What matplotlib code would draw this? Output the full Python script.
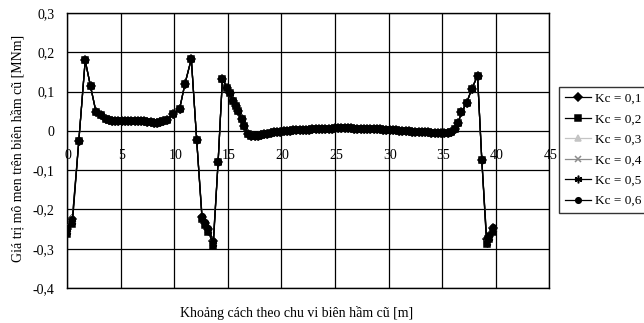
import numpy as np
import pandas as pd
import matplotlib
matplotlib.use('Agg')
import matplotlib.pyplot as plt
from matplotlib.ticker import FuncFormatter
from matplotlib.transforms import offset_copy

plt.rcParams['font.family'] = ['Liberation Serif', 'DejaVu Serif']

# khoảng cách theo chu vi (m) - các điểm chung của tất cả các đường
x_main = [1.1, 1.7, 2.2, 2.7, 3.2,
          3.6, 3.9, 4.2, 4.5, 4.8, 5.1, 5.4, 5.7, 6.0, 6.3,
          6.6, 6.9, 7.2, 7.5, 7.8, 8.1, 8.4, 8.7, 9.0, 9.3,
          9.9, 10.5, 11.0, 11.6, 12.1,
          14.1, 14.5, 14.95, 15.2, 15.5, 15.8, 16.0, 16.3, 16.5, 16.9, 17.2,
          17.5, 17.8, 18.1, 18.4, 18.7, 19.0, 19.3, 19.6, 19.9, 20.2,
          20.5, 20.8, 21.1, 21.4, 21.7, 22.0, 22.3, 22.6, 22.9, 23.2,
          23.5, 23.8, 24.1, 24.4, 24.7, 25.0, 25.3, 25.6, 25.9, 26.2,
          26.5, 26.8, 27.1, 27.4, 27.7, 28.0, 28.3, 28.6, 28.9, 29.2,
          29.5, 29.8, 30.1, 30.4, 30.7, 31.0, 31.3, 31.6, 31.9, 32.2,
          32.5, 32.8, 33.1, 33.4, 33.7, 34.0, 34.3, 34.6, 34.9, 35.2,
          35.5, 35.8,
          36.2, 36.5, 36.8, 37.3, 37.75, 38.3, 38.7]
m_main = [-0.027, 0.179, 0.113, 0.049, 0.041,
          0.030, 0.027, 0.026, 0.026, 0.026, 0.026, 0.026, 0.025, 0.025, 0.025,
          0.025, 0.024, 0.024, 0.023, 0.022, 0.021, 0.020, 0.022, 0.024, 0.027,
          0.044, 0.055, 0.119, 0.183, -0.023,
          -0.079, 0.132, 0.110, 0.097, 0.077, 0.062, 0.051, 0.030, 0.013, -0.008, -0.012,
          -0.013, -0.012, -0.010, -0.009, -0.007, -0.006, -0.004, -0.003, -0.002, -0.001,
          0.000, 0.000, 0.001, 0.001, 0.002, 0.002, 0.003, 0.003, 0.004, 0.004,
          0.005, 0.005, 0.006, 0.006, 0.006, 0.007, 0.007, 0.007, 0.007, 0.007,
          0.007, 0.006, 0.006, 0.006, 0.005, 0.005, 0.005, 0.004, 0.004, 0.004,
          0.003, 0.003, 0.002, 0.002, 0.001, 0.000, 0.000, -0.001, -0.001, -0.002,
          -0.002, -0.003, -0.003, -0.004, -0.004, -0.005, -0.005, -0.005, -0.006, -0.006,
          -0.006, -0.004,
          0.004, 0.021, 0.047, 0.072, 0.106, 0.140, -0.074]

# các điểm cực tiểu - khác nhau theo Kc
x_trough = [0.0, 0.5, 12.6, 12.85, 13.2, 13.65, 39.15, 39.4, 39.7]
m_kc01 = [-0.250, -0.224, -0.219, -0.235, -0.250, -0.281, -0.276, -0.268, -0.248]
m_kc02 = [-0.263, -0.238, -0.225, -0.240, -0.257, -0.292, -0.288, -0.276, -0.256]
m_kc03 = [-0.248, -0.222, -0.217, -0.233, -0.249, -0.279, -0.274, -0.266, -0.246]
m_kc04 = [-0.254, -0.229, -0.221, -0.237, -0.253, -0.285, -0.281, -0.271, -0.251]
m_kc05 = [-0.258, -0.233, -0.223, -0.239, -0.255, -0.288, -0.284, -0.273, -0.253]
m_kc06 = [-0.246, -0.223, -0.216, -0.232, -0.248, -0.280, -0.272, -0.265, -0.245]

labels = ['Kc = 0,1', 'Kc = 0,2', 'Kc = 0,3', 'Kc = 0,4', 'Kc = 0,5', 'Kc = 0,6']
troughs = [m_kc01, m_kc02, m_kc03, m_kc04, m_kc05, m_kc06]
x_ticks = [0, 5, 10, 15, 20, 25, 30, 35, 40, 45]
y_ticks = [-0.4, -0.3, -0.2, -0.1, 0.0, 0.1, 0.2, 0.3]

# (marker, màu, cỡ, zorder)
styles = [('D', 'black', 3.6, 3),
          ('s', 'black', 4.0, 8),
          ('^', '#c4c4c4', 4.4, 4),
          ('x', '#8c8c8c', 4.4, 5),
          ((6, 2, 0), 'black', 5.5, 7),
          ('o', 'black', 4.0, 6)]

fig = plt.figure(figsize=(6.44, 3.23), dpi=100)
ax = fig.add_axes([0.104, 0.108, 0.749, 0.852])

base = pd.Series(m_main, index=x_main)
handles = []
for lab, tr, (mk, col, ms, z) in zip(labels, troughs, styles):
    s = pd.concat([base, pd.Series(tr, index=x_trough)]).sort_index()
    h, = ax.plot(s.index, s.values, color=col, lw=0.9, marker=mk, ms=ms,
                 mfc=col, mec=col, mew=1.1, zorder=z, label=lab)
    handles.append(h)

ax.set_xlim(0, 45)
ax.set_ylim(-0.4, 0.3)
ax.set_xticks(x_ticks)
ax.set_yticks(y_ticks)
ax.grid(True, color='black', lw=0.9)
ax.set_axisbelow(True)
for sp in ax.spines.values():
    sp.set_color('black')
    sp.set_linewidth(1.0)


def vn_fmt(v, p):
    v = round(v, 1)
    if v == 0:
        return '0'
    return ('%g' % v).replace('.', ',')


ax.yaxis.set_major_formatter(FuncFormatter(vn_fmt))
ax.tick_params(axis='y', length=0, pad=9, labelsize=10)
ax.tick_params(axis='x', length=0, labelbottom=False)

# nhãn trục x nằm ngay dưới đường 0
tr_lbl = offset_copy(ax.transData, fig=fig, x=1, y=-13, units='points')
for v in x_ticks:
    ax.text(v, 0, str(v), transform=tr_lbl, ha='center', va='top', fontsize=10)

fig.text(0.028, 0.189, 'Giá trị mô men trên biên hầm cũ [MNm]', rotation=90,
         ha='center', va='bottom', fontsize=10)
fig.text(0.461, 0.031, 'Khoảng cách theo chu vi biên hầm cũ [m]',
         ha='center', va='center', fontsize=10)

leg = fig.legend(handles=handles, loc='upper left', bbox_to_anchor=(0.868, 0.731),
                 frameon=True, fancybox=False, fontsize=9.5, labelspacing=0.62,
                 handlelength=2.0, handletextpad=0.25, borderpad=0.45,
                 borderaxespad=0)
leg.get_frame().set_edgecolor('black')
leg.get_frame().set_linewidth(1.0)

fig.savefig('out.png', dpi=100)
